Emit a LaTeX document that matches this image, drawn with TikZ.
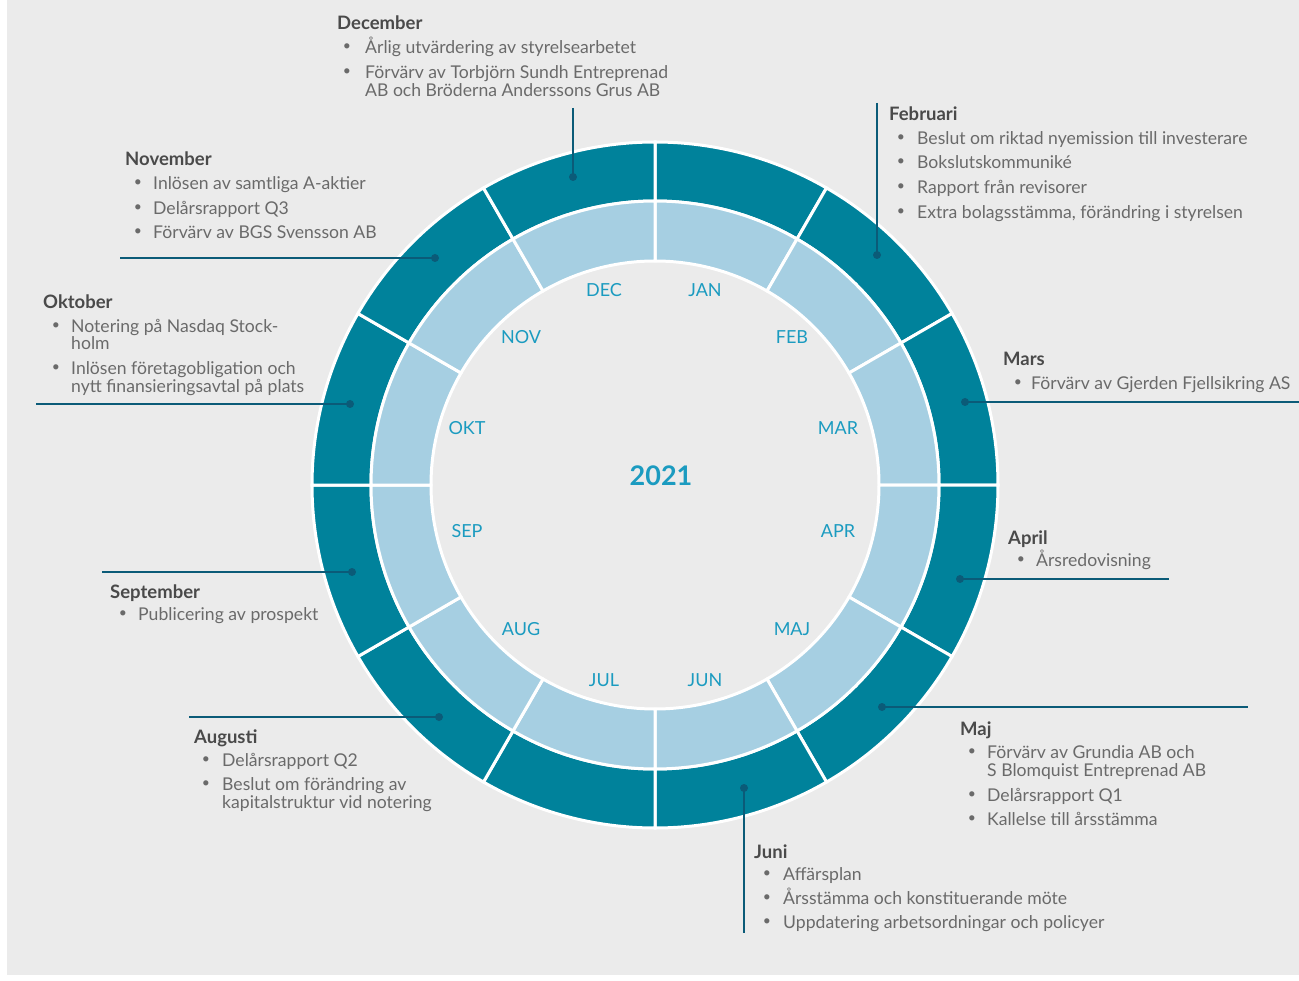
\documentclass[tikz,border=0pt]{standalone}
\usepackage{fontspec}
\setmainfont{Lato}
\definecolor{bg}{HTML}{EBEBEB}
\definecolor{darkring}{HTML}{00829B}
\definecolor{lightring}{HTML}{A6CFE2}
\definecolor{conn}{HTML}{0B5B78}
\definecolor{mlab}{HTML}{1B9BC0}
\definecolor{txt}{HTML}{6A6A6A}
\definecolor{ttl}{HTML}{4A4A4A}
\tikzset{
  ttlnode/.style={anchor=west, inner sep=0pt, text=ttl, font=\fontsize{18.5}{20}\selectfont\bfseries, text height=18pt, text depth=2pt},
  itm/.style={anchor=west, inner sep=0pt, text=txt, font=\fontsize{17.6}{19}\selectfont, text height=15pt, text depth=2pt},
  bul/.style={inner sep=0pt, text=txt, font=\fontsize{14}{16}\selectfont},
  dot/.style={circle, fill=conn, inner sep=0pt, minimum size=8pt},
  connline/.style={draw=conn, line width=2.6pt},
  mon/.style={text=mlab, font=\fontsize{18}{20}\selectfont},
  sector/.style={draw=white, line width=3pt}
}
\begin{document}
\begin{tikzpicture}[x=1pt,y=-1pt]
\useasboundingbox (0,0) rectangle (1299,981);
\fill[white] (0,0) rectangle (1299,981);
\fill[bg] (7,0) rectangle (1299,975);
% rings
\begin{scope}[shift={(655,485)}]
\foreach \i in {0,...,11} {
  \pgfmathsetmacro\a{-90+30*\i}
  \pgfmathsetmacro\b{-60+30*\i}
  \draw[sector, fill=darkring] (\a:343) arc[start angle=\a, end angle=\b, radius=343] -- (\b:284) arc[start angle=\b, end angle=\a, radius=284] -- cycle;
  \draw[sector, fill=lightring] (\a:284) arc[start angle=\a, end angle=\b, radius=284] -- (\b:224) arc[start angle=\b, end angle=\a, radius=224] -- cycle;
}
\end{scope}
\node[mon] (mjan) at (705,290) {JAN};
\node[mon] (mfeb) at (792,337) {FEB};
\node[mon] (mmar) at (838,428) {MAR};
\node[mon] (mapr) at (838,531) {APR};
\node[mon] (mmaj) at (792,629) {MAJ};
\node[mon] (mjun) at (705,680) {JUN};
\node[mon] (mjul) at (604,680) {JUL};
\node[mon] (maug) at (521,629) {AUG};
\node[mon] (msep) at (467,531) {SEP};
\node[mon] (mokt) at (467,428) {OKT};
\node[mon] (mnov) at (521,337) {NOV};
\node[mon] (mdec) at (604,290) {DEC};
\node[text=mlab, font=\fontsize{27}{29}\selectfont\bfseries] (year) at (661,476) {2021};
% connectors
\node[dot] (decdot) at (573,177) {};
\coordinate (decend) at (573,108);
\draw[connline] (decend) -- (decdot.center);
\node[dot] (febdot) at (877,255) {};
\coordinate (febend) at (877,103);
\draw[connline] (febend) -- (febdot.center);
\node[dot] (novdot) at (435,258) {};
\coordinate (novend) at (120,258);
\draw[connline] (novend) -- (novdot.center);
\node[dot] (oktdot) at (350,404) {};
\coordinate (oktend) at (36,404);
\draw[connline] (oktend) -- (oktdot.center);
\node[dot] (mardot) at (965,402) {};
\coordinate (marend) at (1299,402);
\draw[connline] (mardot.center) -- (marend);
\node[dot] (aprdot) at (960,579) {};
\coordinate (aprend) at (1169,579);
\draw[connline] (aprdot.center) -- (aprend);
\node[dot] (sepdot) at (352,572) {};
\coordinate (sepend) at (102,572);
\draw[connline] (sepend) -- (sepdot.center);
\node[dot] (augdot) at (439,717) {};
\coordinate (augend) at (189,717);
\draw[connline] (augend) -- (augdot.center);
\node[dot] (majdot) at (882,707) {};
\coordinate (majend) at (1248,707);
\draw[connline] (majdot.center) -- (majend);
\node[dot] (jundot) at (744,788) {};
\coordinate (junend) at (744,933);
\draw[connline] (jundot.center) -- (junend);
% December
\node[ttlnode] (dect) at (337,22) {December};
\node[bul] (decb1) at (347,47) {•};
\node[itm] (deci1) at (365,47) {Årlig utvärdering av styrelsearbetet};
\node[bul] (decb2) at (347,72) {•};
\node[itm] (deci2) at (365,72) {Förvärv av Torbjörn Sundh Entreprenad};
\node[itm] (deci2b) at (365,90) {AB och Bröderna Anderssons Grus AB};
% Februari
\node[ttlnode] (febt) at (889,113) {Februari};
\node[bul] (febb1) at (901,138) {•};
\node[itm] (febi1) at (917,138) {Beslut om riktad nyemission till investerare};
\node[bul] (febb2) at (901,162) {•};
\node[itm] (febi2) at (917,162) {Bokslutskommuniké};
\node[bul] (febb3) at (901,187) {•};
\node[itm] (febi3) at (917,187) {Rapport från revisorer};
\node[bul] (febb4) at (901,212) {•};
\node[itm] (febi4) at (917,212) {Extra bolagsstämma, förändring i styrelsen};
% November
\node[ttlnode] (novt) at (125,158) {November};
\node[bul] (novb1) at (138,183) {•};
\node[itm] (novi1) at (153,183) {Inlösen av samtliga A-aktier};
\node[bul] (novb2) at (138,208) {•};
\node[itm] (novi2) at (153,208) {Delårsrapport Q3};
\node[bul] (novb3) at (138,232) {•};
\node[itm] (novi3) at (153,232) {Förvärv av BGS Svensson AB};
% Oktober
\node[ttlnode] (oktt) at (43,301) {Oktober};
\node[bul] (oktb1) at (56,326) {•};
\node[itm] (okti1) at (71,326) {Notering på Nasdaq Stock-};
\node[itm] (okti1b) at (71,343) {holm};
\node[bul] (oktb2) at (56,368) {•};
\node[itm] (okti2) at (71,368) {Inlösen företagobligation och};
\node[itm] (okti2b) at (71,386) {nytt finansieringsavtal på plats};
% Mars
\node[ttlnode] (mart) at (1003,358) {Mars};
\node[bul] (marb1) at (1018,383) {•};
\node[itm] (mari1) at (1031,383) {Förvärv av Gjerden Fjellsikring AS};
% April
\node[ttlnode] (aprt) at (1008,536) {April};
\node[bul] (aprb1) at (1021,560) {•};
\node[itm] (apri1) at (1036,560) {Årsredovisning};
% September
\node[ttlnode] (sept) at (110,590) {September};
\node[bul] (sepb1) at (123,614) {•};
\node[itm] (sepi1) at (138,614) {Publicering av prospekt};
% Augusti
\node[ttlnode] (augt) at (194,735) {Augusti};
\node[bul] (augb1) at (206,760) {•};
\node[itm] (augi1) at (222,760) {Delårsrapport Q2};
\node[bul] (augb2) at (206,784) {•};
\node[itm] (augi2) at (222,784) {Beslut om förändring av};
\node[itm] (augi2b) at (222,802) {kapitalstruktur vid notering};
% Maj
\node[ttlnode] (majt) at (960,727) {Maj};
\node[bul] (majb1) at (972,752) {•};
\node[itm] (maji1) at (987,752) {Förvärv av Grundia AB och};
\node[itm] (maji1b) at (987,770) {S Blomquist Entreprenad AB};
\node[bul] (majb2) at (972,795) {•};
\node[itm] (maji2) at (987,795) {Delårsrapport Q1};
\node[bul] (majb3) at (972,819) {•};
\node[itm] (maji3) at (987,819) {Kallelse till årsstämma};
% Juni
\node[ttlnode] (junt) at (754,850) {Juni};
\node[bul] (junb1) at (767,874) {•};
\node[itm] (juni1) at (783,874) {Affärsplan};
\node[bul] (junb2) at (767,898) {•};
\node[itm] (juni2) at (783,898) {Årsstämma och konstituerande möte};
\node[bul] (junb3) at (767,922) {•};
\node[itm] (juni3) at (783,922) {Uppdatering arbetsordningar och policyer};
\end{tikzpicture}
\end{document}
